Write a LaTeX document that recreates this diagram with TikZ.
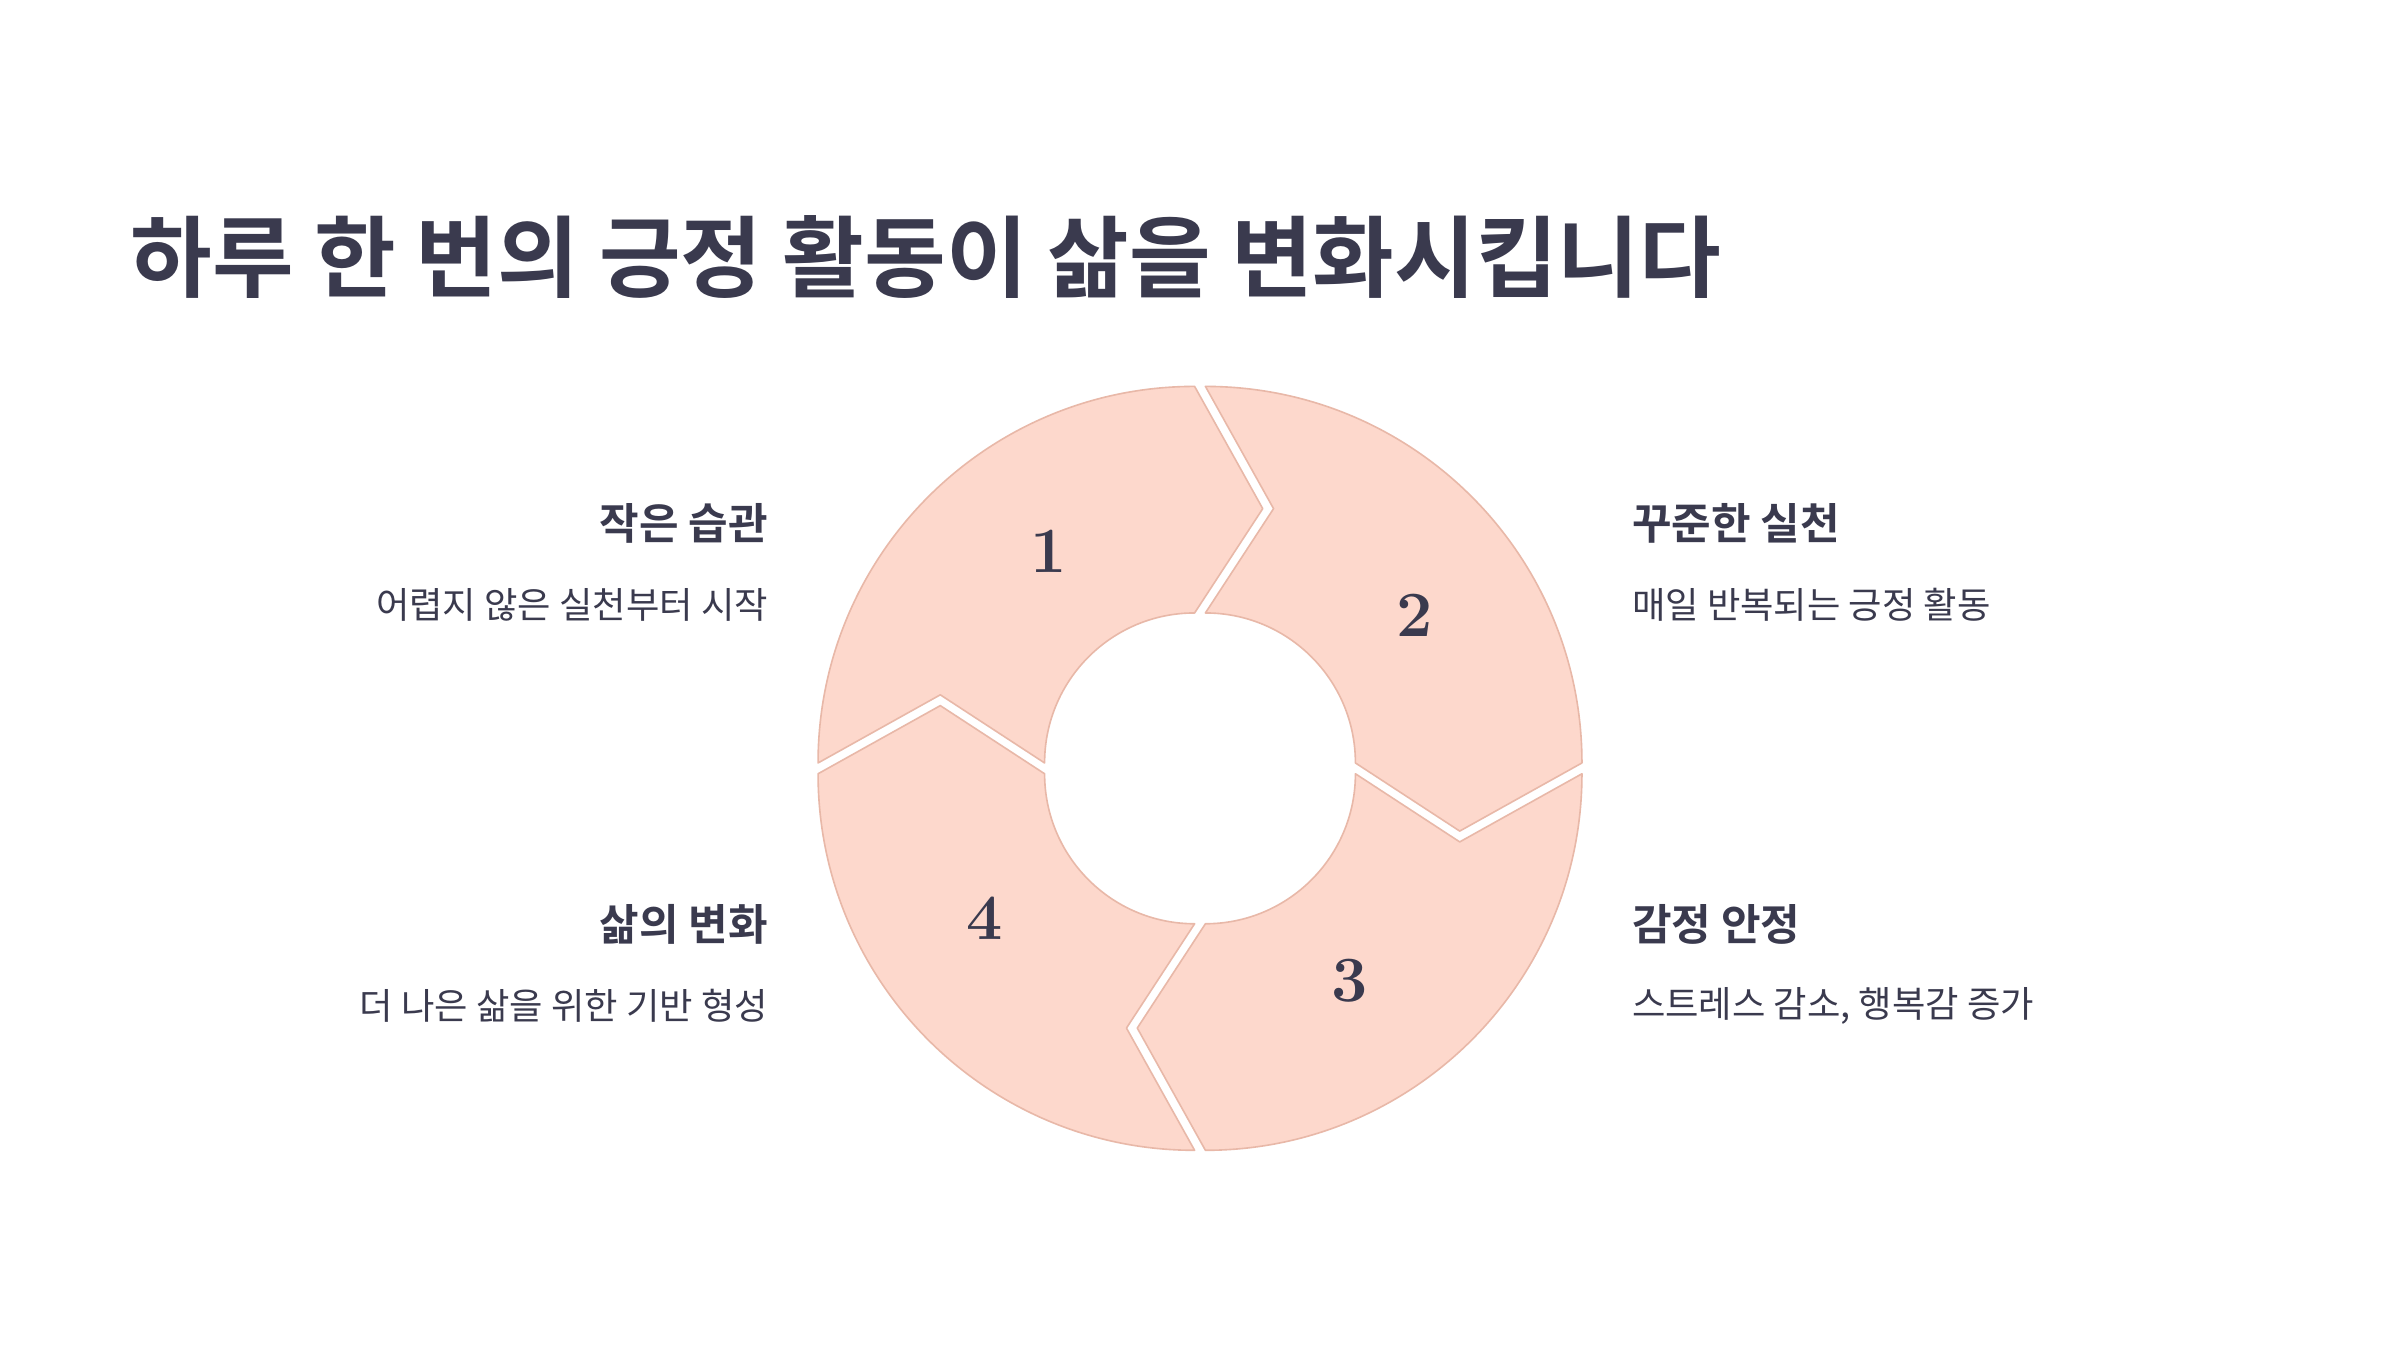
\documentclass[tikz,border=0pt]{standalone}
\usepackage{fontspec}
\newfontfamily\kr{Noto Sans CJK KR}
\newfontfamily\krb{Noto Sans CJK KR Bold}
\definecolor{ink}{HTML}{3A3A4E}
\definecolor{seg}{HTML}{FDD8CC}
\definecolor{segline}{HTML}{E8B8A8}
\begin{document}
\begin{tikzpicture}[x=0.02cm,y=0.02cm,
  lab/.style={text=ink,font=\krb\fontsize{16}{18}\selectfont,inner sep=0},
  sub/.style={text=ink,font=\kr\fontsize{13.5}{16}\selectfont,inner sep=0},
  num/.style={text=ink,font=\bfseries\fontsize{24}{26}\selectfont,inner sep=0},
  segment/.style={fill=seg,draw=segline,line width=0.6pt,line join=round}]
\useasboundingbox[fill=white] (0,0) rectangle (1568,882);
\node[anchor=west,text=ink,font=\krb\fontsize{33}{38}\selectfont,inner sep=0] (title) at (85,714) {하루 한 번의 긍정 활동이 삶을 변화시킵니다};
\begin{scope}[shift={(784,380)}]
\foreach \e in {90,0,-90,-180}{
  \pgfmathsetmacro{\s}{\e+90}
  \pgfmathsetmacro{\t}{\e-15}
  \pgfmathsetmacro{\n}{\s-15}
  \pgfmathsetmacro{\b}{\e+45}
  \path[segment,shift={(\b:5)}] (\s:246) arc[start angle=\s,end angle=\e,radius=246] -- (\t:172) -- (\e:98) arc[start angle=\e,end angle=\s,radius=98] -- (\n:172) -- cycle;
}
\end{scope}
\node[num] (n1) at (685,522) {1};
\node[num] (n2) at (924,480) {2};
\node[num] (n3) at (882,241) {3};
\node[num] (n4) at (643,282) {4};
\node[lab,anchor=east] (l1) at (502,540) {작은 습관};
\node[sub,anchor=east] (s1) at (502,487) {어렵지 않은 실천부터 시작};
\node[lab,anchor=west] (l2) at (1066,540) {꾸준한 실천};
\node[sub,anchor=west] (s2) at (1066,487) {매일 반복되는 긍정 활동};
\node[lab,anchor=west] (l3) at (1066,278) {감정 안정};
\node[sub,anchor=west] (s3) at (1066,225) {스트레스 감소, 행복감 증가};
\node[lab,anchor=east] (l4) at (502,278) {삶의 변화};
\node[sub,anchor=east] (s4) at (502,225) {더 나은 삶을 위한 기반 형성};
\end{tikzpicture}
\end{document}
